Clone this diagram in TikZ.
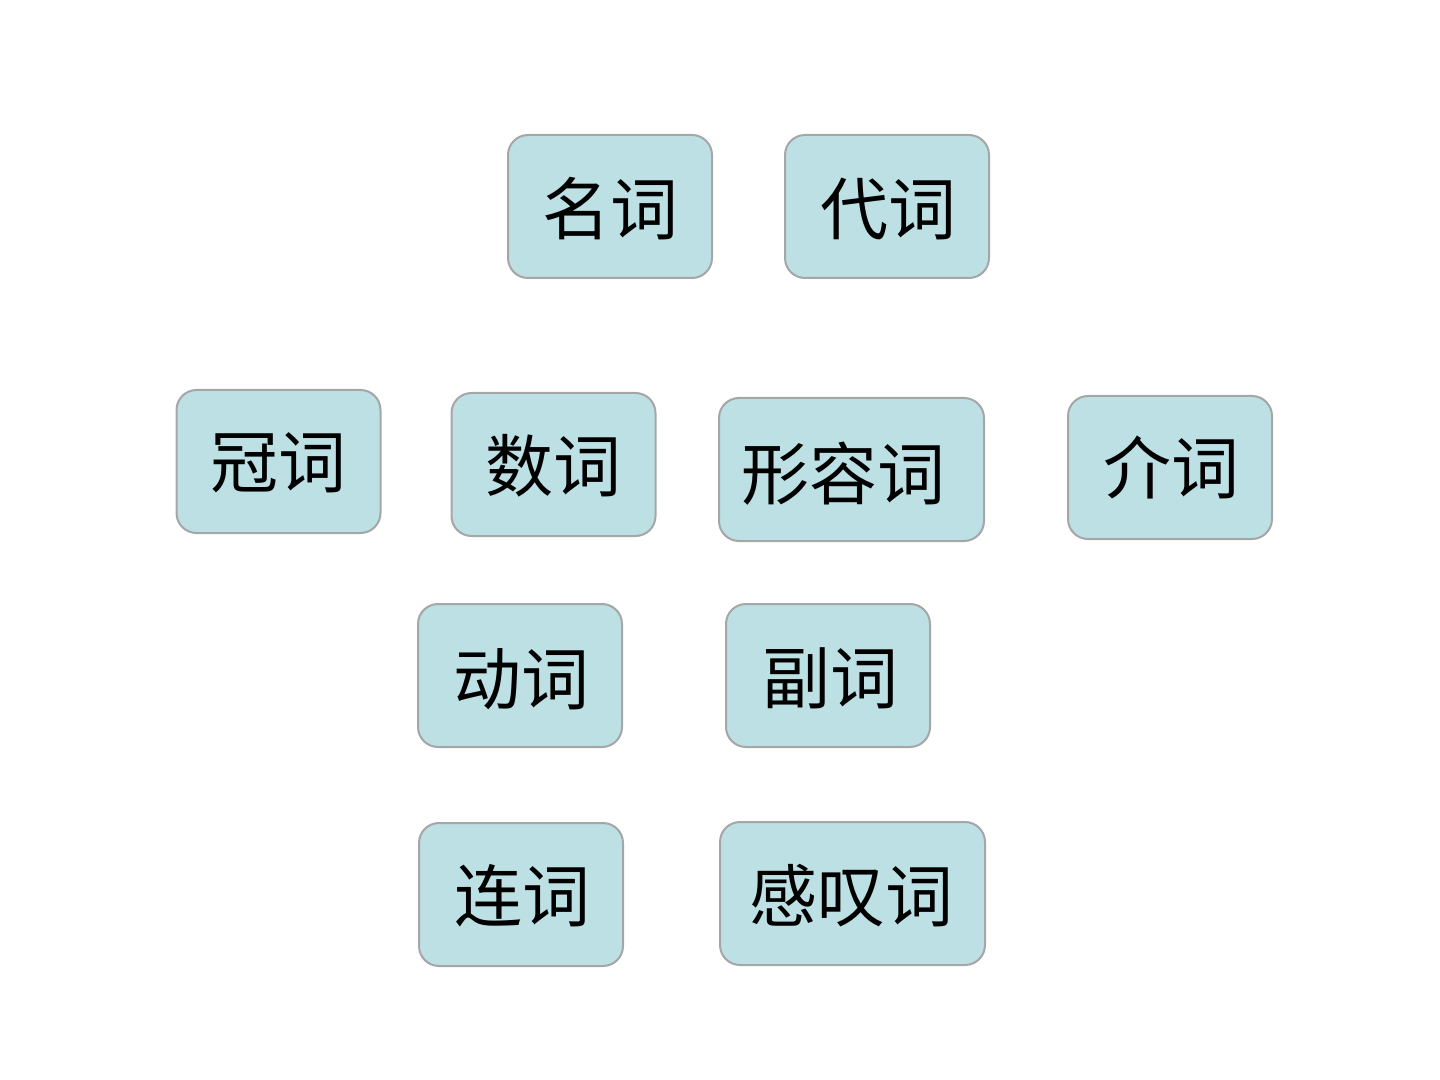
\documentclass[tikz,border=0pt]{standalone}
\usepackage{fontspec}
\newfontfamily\cjk{Noto Sans CJK SC}
\definecolor{boxfill}{HTML}{BCE0E3}
\definecolor{boxline}{HTML}{A6A6A6}
\tikzset{
  wbox/.style={draw=boxline, fill=boxfill, line width=1pt, rounded corners=10pt,
    inner sep=0pt, minimum height=71.5pt, minimum width=#1},
  wbox/.default=102pt,
  wtext/.style={inner sep=0pt, font=\cjk\fontsize{34}{40}\selectfont, text=black}
}
\begin{document}
\begin{tikzpicture}[x=0.5pt, y=-0.5pt]
  \useasboundingbox (0,0) rectangle (1440,1080);
  % word-class boxes
  \node[wbox] (ming)   at (610,206.5) {};
  \node[wbox] (dai)    at (887,206.5) {};
  \node[wbox] (guan)   at (278.5,461.5) {};
  \node[wbox] (shu)    at (553.5,464.5) {};
  \node[wbox=132.5pt] (xing) at (851.5,469.5) {};
  \node[wbox] (jie)    at (1170,467.5) {};
  \node[wbox] (dong)   at (520,675.5) {};
  \node[wbox] (fu)     at (828,675.5) {};
  \node[wbox] (lian)   at (521,894.5) {};
  \node[wbox=132.5pt] (gan)  at (852.5,893.5) {};
  % labels
  \node[wtext] (mingt) at (610,209) {名词};
  \node[wtext] (dait)  at (888,209) {代词};
  \node[wtext] (guant) at (278,463) {冠词};
  \node[wtext] (shut)  at (553,466) {数词};
  \node[wtext] (xingt) at (843,474) {形容词};
  \node[wtext] (jiet)  at (1171,467) {介词};
  \node[wtext] (dongt) at (521,679) {动词};
  \node[wtext] (fut)   at (830,678) {副词};
  \node[wtext] (liant) at (522,896) {连词};
  \node[wtext] (gant)  at (851,896) {感叹词};
\end{tikzpicture}
\end{document}
